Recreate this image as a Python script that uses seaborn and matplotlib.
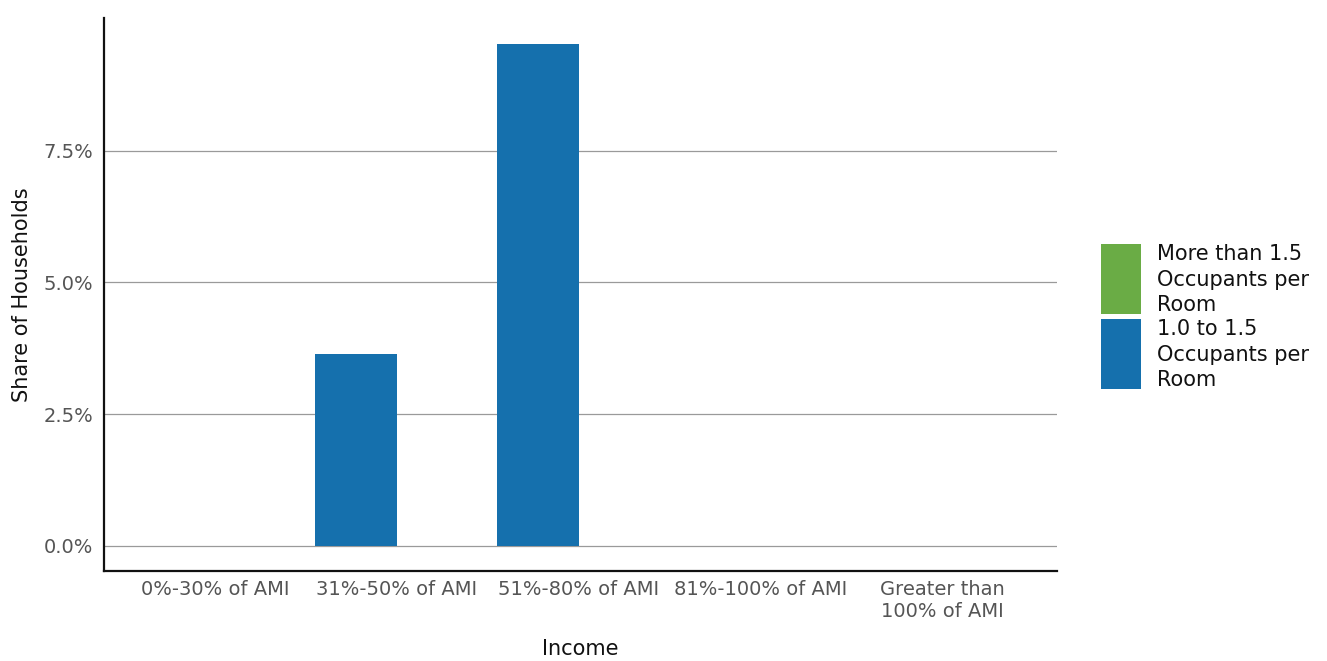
import matplotlib
matplotlib.use("Agg")
import matplotlib.pyplot as plt
import matplotlib.ticker as mticker
from matplotlib.patches import Patch, Rectangle
from matplotlib.legend_handler import HandlerPatch
import pandas as pd
import seaborn as sns

# Income bands and overcrowding shares (% of households)
income = ["0%-30% of AMI", "31%-50% of AMI", "51%-80% of AMI",
          "81%-100% of AMI", "Greater than\n100% of AMI"]
one_to_one_half = [0.0, 3.65, 9.53, 0.0, 0.0]
more_than_one_half = [0.0, 0.0, 0.0, 0.0, 0.0]

series_labels = ["1.0 to 1.5\nOccupants per\nRoom", "More than 1.5\nOccupants per\nRoom"]
series_colors = ["#1570ad", "#6aac45"]
y_ticks = [0.0, 2.5, 5.0, 7.5]

df = pd.DataFrame({
    "Income": income * 2,
    "Share": one_to_one_half + more_than_one_half,
    "Series": [series_labels[0]] * len(income) + [series_labels[1]] * len(income),
})

sns.set_theme(style="white")
plt.rcParams["font.family"] = ["DejaVu Sans"]

fig = plt.figure(figsize=(13.27, 6.61), dpi=100)
ax = fig.add_axes([0.0784, 0.1362, 0.7181, 0.8366])

sns.barplot(data=df, x="Income", y="Share", hue="Series", order=income,
            hue_order=series_labels, palette=series_colors, width=0.9,
            dodge=True, saturation=1, errorbar=None, ax=ax, legend=False,
            linewidth=0)

ax.set_xlim(-0.61, 4.63)
ax.set_ylim(-0.475, 10.02)
ax.set_yticks(y_ticks)
ax.yaxis.set_major_formatter(mticker.FuncFormatter(lambda v, p: f"{v:.1f}%"))
ax.grid(axis="y", color="#9a9a9a", linewidth=0.9)
ax.set_axisbelow(True)

for side in ("top", "right"):
    ax.spines[side].set_visible(False)
for side in ("left", "bottom"):
    ax.spines[side].set_color("#111111")
    ax.spines[side].set_linewidth(1.6)

ax.tick_params(axis="y", length=0, labelsize=14, colors="#555555", pad=8)
ax.tick_params(axis="x", length=0, labelsize=14, colors="#555555", pad=6.5)
ax.set_xlabel("Income", fontsize=15, color="#111111", labelpad=13)
ax.set_ylabel("Share of Households", fontsize=15, color="#111111", labelpad=8)

SWATCH_H = 50.4    # swatch height, points
SWATCH_DROP = 18.7  # lowers the swatch to the last text line, points


def tall_swatch(legend, orig_handle, xdescent, ydescent, width, height, fontsize):
    # tall block swatch spanning the three label lines
    return Rectangle((-xdescent, -SWATCH_DROP), width, SWATCH_H)


handles = [Patch(facecolor=series_colors[1], edgecolor="none"),
           Patch(facecolor=series_colors[0], edgecolor="none")]
leg = ax.legend(handles, [series_labels[1], series_labels[0]],
                loc="center left", bbox_to_anchor=(1.0377, 0.459),
                frameon=False, fontsize=15, handlelength=1.92,
                handleheight=1.0, labelspacing=0.19, handletextpad=0.75,
                borderaxespad=0,
                handler_map={Patch: HandlerPatch(patch_func=tall_swatch)})
for t in leg.get_texts():
    t.set_color("#111111")
    t.set_linespacing(1.35)

fig.savefig("out.png", dpi=100, facecolor="white")
